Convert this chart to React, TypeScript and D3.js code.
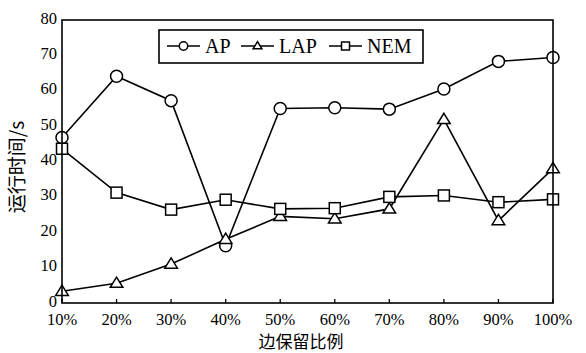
import React from "react";
import * as d3 from "d3";

const categories = ["10%", "20%", "30%", "40%", "50%", "60%", "70%", "80%", "90%", "100%"];
const apValues = [46.8, 64.1, 57.2, 16.2, 55.0, 55.2, 54.8, 60.5, 68.3, 69.4];
const lapValues = [3.3, 5.6, 11.0, 18.0, 24.5, 23.8, 26.6, 51.9, 23.3, 38.0];
const nemValues = [43.6, 31.2, 26.4, 29.2, 26.6, 26.8, 30.0, 30.4, 28.5, 29.3];
const yTicks = [0, 10, 20, 30, 40, 50, 60, 70, 80];

const W = 586;
const H = 353;
const margin = { top: 20, right: 33, bottom: 50, left: 62 };
const serif = "Liberation Serif, Times New Roman, Tinos, Noto Serif, DejaVu Serif, serif";
const cjk = "Noto Sans CJK SC, sans-serif";

type Shape = "circle" | "triangle" | "square";

const Marker = ({ shape, x, y, s }: { shape: Shape; x: number; y: number; s: number }) => {
  const common = { fill: "white", stroke: "black", strokeWidth: 1.5 };
  if (shape === "circle") return <circle cx={x} cy={y} r={s} {...common} />;
  if (shape === "square")
    return <rect x={x - s} y={y - s} width={s * 2} height={s * 2} {...common} />;
  const h = s * 1.7;
  return (
    <path
      d={`M${x},${y - h * 0.6} L${x + s * 1.05},${y + h * 0.4} L${x - s * 1.05},${y + h * 0.4} Z`}
      {...common}
    />
  );
};

const App = () => {
  const innerW = W - margin.left - margin.right;
  const innerH = H - margin.top - margin.bottom;

  const x = d3
    .scalePoint<string>()
    .domain(categories)
    .range([margin.left, margin.left + innerW]);
  const y = d3
    .scaleLinear()
    .domain([0, 80])
    .range([margin.top + innerH, margin.top]);

  const line = d3
    .line<number>()
    .x((_, i) => x(categories[i]) as number)
    .y((d) => y(d));

  const series: { name: string; values: number[]; shape: Shape }[] = [
    { name: "AP", values: apValues, shape: "circle" },
    { name: "LAP", values: lapValues, shape: "triangle" },
    { name: "NEM", values: nemValues, shape: "square" },
  ];

  const legendX = [167, 241, 329];

  return (
    <svg width={W} height={H} style={{ position: "absolute", left: 0, top: 0, background: "white" }}>
      <rect x={0} y={0} width={W} height={H} fill="white" />
      {series.map((s) => (
        <g key={s.name}>
          <path d={line(s.values) || ""} fill="none" stroke="black" strokeWidth={1.6} />
          {s.values.map((v, i) => (
            <Marker key={i} shape={s.shape} x={x(categories[i]) as number} y={y(v)} s={s.shape === "square" ? 5.5 : 6} />
          ))}
        </g>
      ))}
      {/* frame */}
      <rect
        x={margin.left}
        y={margin.top}
        width={innerW}
        height={innerH}
        fill="none"
        stroke="black"
        strokeWidth={1.6}
      />
      {categories.map((c) => (
        <g key={c}>
          <line
            x1={x(c)}
            x2={x(c)}
            y1={margin.top + innerH}
            y2={margin.top + innerH - 4}
            stroke="black"
            strokeWidth={1.3}
          />
          <text x={x(c)} y={325} textAnchor="middle" style={{ fontFamily: serif, fontSize: 16.5 }}>
            {c}
          </text>
        </g>
      ))}
      {yTicks.map((t) => (
        <text key={t} x={57} y={y(t) + 3.5} textAnchor="end" style={{ fontFamily: serif, fontSize: 16.5 }}>
          {t}
        </text>
      ))}
      <text x={301} y={348} textAnchor="middle" style={{ fontFamily: cjk, fontSize: 17 }}>
        边保留比例
      </text>
      <text
        transform="translate(24,167) rotate(-90)"
        textAnchor="middle"
        style={{ fontFamily: cjk, fontSize: 19 }}
      >
        运行时间/s
      </text>
      {/* legend */}
      <rect x={159} y={30} width={264} height={33} fill="white" stroke="black" strokeWidth={1.6} />
      {series.map((s, i) => (
        <g key={s.name}>
          <line x1={legendX[i]} x2={legendX[i] + 33} y1={46} y2={46} stroke="black" strokeWidth={1.6} />
          <Marker shape={s.shape} x={legendX[i] + 16.5} y={46} s={s.shape === "square" ? 4 : 4.2} />
          <text x={legendX[i] + 38} y={53} style={{ fontFamily: serif, fontSize: 20 }}>
            {s.name}
          </text>
        </g>
      ))}
    </svg>
  );
};

export default App;
